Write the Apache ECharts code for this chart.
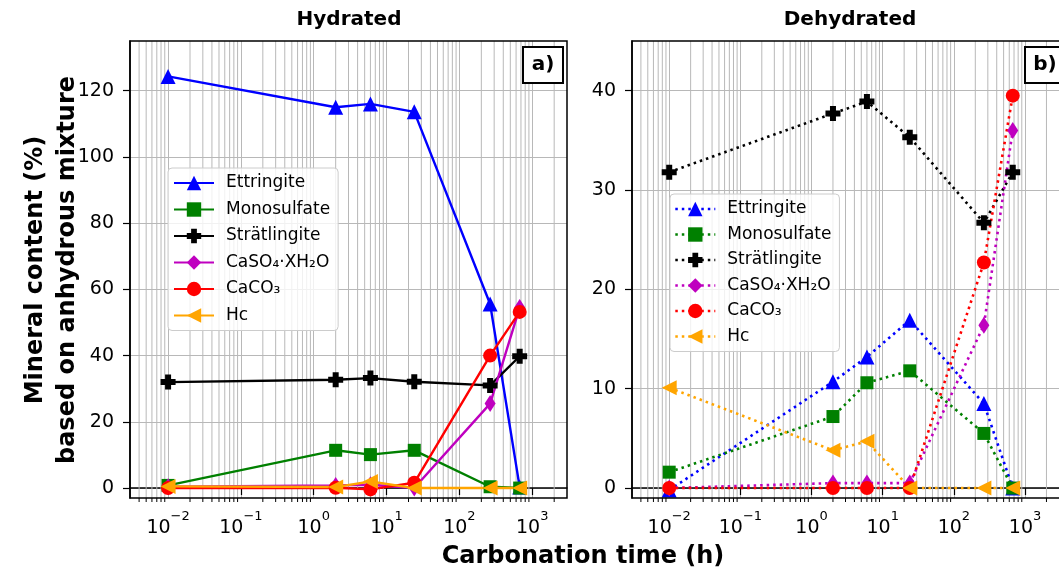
<!DOCTYPE html>
<html>
<head>
<meta charset="utf-8">
<script src="https://cdn.jsdelivr.net/npm/echarts@6/dist/echarts.min.js"></script>
<style>
html, body { margin: 0; padding: 0; background: #fff; }
#main { width: 1059px; height: 573px; }
</style>
</head>
<body>
<div id="main"></div>
<script>
// carbonation times (h)
var hours = [0.01, 2, 6, 24, 264, 672];
var names = ['Ettringite', 'Monosulfate', 'Strätlingite', 'CaSO₄·XH₂O', 'CaCO₃', 'Hc'];

// a) hydrated
var hydEttringite   = [124.3, 115.0, 116.0, 113.6, 55.6, 0.3];
var hydMonosulfate  = [0.8, 11.4, 10.1, 11.4, 0.4, 0.0];
var hydStratlingite = [32.0, 32.7, 33.2, 32.1, 31.0, 39.8];
var hydCaSO4        = [0.4, 0.8, 1.0, 0.0, 25.5, 54.5];
var hydCaCO3        = [0.0, 0.1, -0.4, 1.6, 40.0, 53.2];
var hydHc           = [0.5, 0.3, 2.0, 0.0, 0.0, 0.0];

// b) dehydrated
var dehEttringite   = [-0.2, 10.7, 13.2, 16.9, 8.5, 0.0];
var dehMonosulfate  = [1.6, 7.2, 10.6, 11.8, 5.5, 0.0];
var dehStratlingite = [31.8, 37.7, 38.9, 35.3, 26.7, 31.8];
var dehCaSO4        = [0.0, 0.5, 0.5, 0.5, 16.4, 36.0];
var dehCaCO3        = [0.0, 0.0, 0.0, 0.0, 22.7, 39.5];
var dehHc           = [10.1, 3.8, 4.7, 0.0, 0.0, 0.0];

var xTicks = [0.01, 0.1, 1, 10, 100, 1000];
var yTicksLeft = [0, 20, 40, 60, 80, 100, 120];
var yTicksRight = [0, 10, 20, 30, 40];

var hydrated = [hydEttringite, hydMonosulfate, hydStratlingite, hydCaSO4, hydCaCO3, hydHc];
var dehydrated = [dehEttringite, dehMonosulfate, dehStratlingite, dehCaSO4, dehCaCO3, dehHc];

var colors = ['#0000ff', '#008000', '#000000', '#bf00bf', '#ff0000', '#ffa500'];
var symbols = ['triangle', 'rect', 'path://M3,0H7V3H10V7H7V10H3V7H0V3H3Z', 'diamond',
               'circle', 'path://M0,5L10,0L10,10Z'];
var symbolSizes = [15, 13, 15, [11, 17], 14, 15];

var FONT = 'DejaVu Sans';
var grids = [
    {left: 130, top: 41, width: 437, height: 457},
    {left: 632, top: 41, width: 437, height: 457}
];
var xMin = 0.003, xMax = 3000;
var yRange = [[-3, 135], [-1, 45]];

// minor log ticks 2..9 per decade
var minorX = [];
for (var e = -3; e <= 3; e++) {
    for (var k = 2; k <= 9; k++) {
        var v = k * Math.pow(10, e);
        var lv = Math.log10(v);
        if (lv > -2.52 && lv < 3.47) minorX.push(v);
    }
}

function supLabel(v) {
    var l = Math.log10(v);
    var n = Math.round(l);
    if (Math.abs(l - n) > 1e-6) return '';
    return '{b|10}{sup|' + (n < 0 ? '\u2212' + (-n) : n) + '}';
}

function xAxisFor(i) {
    return {
        type: 'log', logBase: 10, gridIndex: i, min: xMin, max: xMax,
        axisLine: {show: true, lineStyle: {color: '#000', width: 1.5}},
        axisTick: {show: true, inside: false, length: 7, customValues: xTicks,
                   lineStyle: {color: '#000', width: 1.2}},
        axisLabel: {
            formatter: supLabel, margin: 12, color: '#000', customValues: xTicks,
            rich: {
                b: {fontSize: 19, fontFamily: FONT, color: '#000', lineHeight: 28, verticalAlign: 'bottom'},
                sup: {fontSize: 13, fontFamily: FONT, color: '#000', lineHeight: 16, verticalAlign: 'top'}
            }
        },
        splitLine: {show: true, lineStyle: {color: '#b8b8b8', width: 1}},
        minorTick: {show: false}
    };
}

function yAxisFor(i, step) {
    var ticks = i === 0 ? yTicksLeft : yTicksRight;
    return {
        type: 'value', gridIndex: i, min: yRange[i][0], max: yRange[i][1],
        minInterval: step, maxInterval: step,
        axisLine: {show: true, lineStyle: {color: '#000', width: 1.5}},
        axisTick: {show: true, inside: false, length: 7, customValues: ticks,
                   lineStyle: {color: '#000', width: 1.2}},
        axisLabel: {margin: 16, fontSize: 19, fontFamily: FONT, color: '#000', customValues: ticks},
        splitLine: {show: true, lineStyle: {color: '#b8b8b8', width: 1}}
    };
}

function minorGrid(i) {
    var yMin = yRange[i][0], yMax = yRange[i][1];
    return {
        type: 'custom', xAxisIndex: i, yAxisIndex: i, silent: true, z: 1, clip: false,
        data: minorX.map(function (v) { return [v, yMin]; }),
        renderItem: function (params, api) {
            var x = api.value(0);
            var p0 = api.coord([x, yMin]);
            var p1 = api.coord([x, yMax]);
            return {
                type: 'group',
                children: [
                    {type: 'line', shape: {x1: p0[0], y1: p0[1], x2: p1[0], y2: p1[1]},
                     style: {stroke: '#b8b8b8', lineWidth: 1}},
                    {type: 'line', shape: {x1: p0[0], y1: p0[1], x2: p0[0], y2: p0[1] + 4},
                     style: {stroke: '#000', lineWidth: 1}}
                ]
            };
        }
    };
}

function lineSeries(values, j, i, dotted) {
    return {
        name: names[j], type: 'line', xAxisIndex: i, yAxisIndex: i,
        data: hours.map(function (h, k) { return [h, values[k]]; }),
        symbol: symbols[j], symbolSize: symbolSizes[j], showAllSymbol: true,
        itemStyle: {color: colors[j]},
        lineStyle: {color: colors[j], width: dotted ? 2.6 : 2.4, type: dotted ? [2.5, 4] : 'solid'},
        z: 3, clip: false
    };
}

var series = [minorGrid(0), minorGrid(1)];
hydrated.forEach(function (vals, j) { series.push(lineSeries(vals, j, 0, false)); });
dehydrated.forEach(function (vals, j) { series.push(lineSeries(vals, j, 1, true)); });

function legendFor(left, top, gap, padLeft, dotted) {
    var lg = {
        orient: 'vertical', left: left, top: top, itemGap: gap,
        itemWidth: 40, itemHeight: 18,
        padding: [5, 8, 5, padLeft],
        backgroundColor: 'rgba(255,255,255,0.8)',
        borderColor: '#cccccc', borderWidth: 1, borderRadius: 4,
        textStyle: {fontSize: 17, fontFamily: FONT, color: '#000', lineHeight: 20, padding: [0, 0, 0, 7]},
        data: names.slice()
    };
    if (dotted) lg.lineStyle = {type: [2.5, 4], width: 2.6};
    return lg;
}

function frame(g) {
    return {type: 'rect', silent: true, z: 100,
            shape: {x: g.left, y: g.top, width: g.width, height: g.height},
            style: {fill: null, stroke: '#000', lineWidth: 1.5}};
}

function panelTag(g, txt) {
    var x = g.left + g.width - 44, y = g.top + 6;
    return [
        {type: 'rect', z: 101, silent: true, shape: {x: x, y: y, width: 40, height: 36},
         style: {fill: '#fff', stroke: '#000', lineWidth: 2}},
        {type: 'text', z: 102, silent: true, x: x + 20, y: y + 18,
         style: {text: txt, fontSize: 20, fontWeight: 'bold', fontFamily: FONT, fill: '#000',
                 textAlign: 'center', verticalAlign: 'middle', textVerticalAlign: 'middle'}}
    ];
}

function label(txt, x, y, size, rot) {
    return {type: 'text', silent: true, x: x, y: y, rotation: rot || 0,
            style: {text: txt, fontSize: size, fontWeight: 'bold', fontFamily: FONT, fill: '#000',
                    lineHeight: 32, textAlign: 'center', verticalAlign: 'middle', textVerticalAlign: 'middle'}};
}

var graphics = [frame(grids[0]), frame(grids[1])]
    .concat(panelTag(grids[0], 'a)'))
    .concat(panelTag(grids[1], 'b)'))
    .concat([
        label('Hydrated', 349, 20, 20),
        label('Dehydrated', 850, 20, 20),
        label('Carbonation time (h)', 583, 557, 24),
        label('Mineral content (%)\nbased on anhydrous mixture', 52, 270, 24, Math.PI / 2)
    ]);

var chart = echarts.init(document.getElementById('main'));
chart.setOption({
    animation: false,
    backgroundColor: '#fff',
    grid: grids,
    xAxis: [xAxisFor(0), xAxisFor(1)],
    yAxis: [yAxisFor(0, 20), yAxisFor(1, 10)],
    legend: [legendFor(168, 168, 6.5, 5, false), legendFor(670, 194, 5.5, 4, true)],
    series: series,
    graphic: graphics
});
</script>
</body>
</html>
